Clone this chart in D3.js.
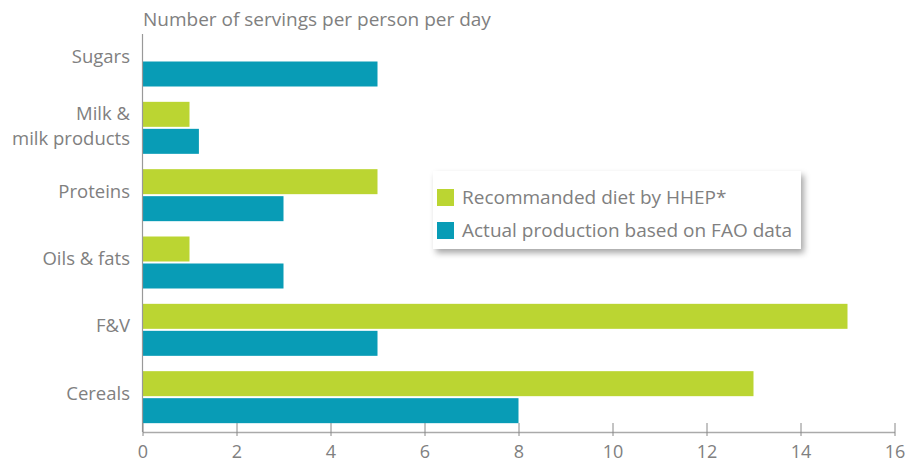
<!DOCTYPE html>
<html>
<head>
<meta charset="utf-8">
<script src="https://cdn.jsdelivr.net/npm/d3@7"></script>
<style>
  body { margin: 0; background: #fff; }
  text { font-family: "Open Sans", sans-serif; fill: #808080; }
</style>
</head>
<body>
<svg width="905" height="463"></svg>
<script>
// data, top to bottom
var categories = ["Sugars", "Milk &\nmilk products", "Proteins", "Oils & fats", "F&V", "Cereals"];
var recommended = [0, 1, 5, 1, 15, 13];
var actual = [5, 1.2, 3, 3, 5, 8];
var seriesNames = ["Recommanded diet by HHEP*", "Actual production based on FAO data"];
var xTicks = [0, 2, 4, 6, 8, 10, 12, 14, 16];
var colors = ["#bbd532", "#089cb6"];

var svg = d3.select("svg");

var x = d3.scaleLinear().domain([0, 16]).range([142.5, 894.5]);
var y = d3.scaleBand().domain(categories).range([34.5, 438.5]).padding(0);
var barH = 25, gap = 2;

var rows = categories.map(function(c, i) {
    return { cat: c, vals: [recommended[i], actual[i]] };
});

// bars
var g = svg.selectAll("g.row")
    .data(rows)
    .enter()
    .append("g")
    .attr("class", "row")
    .attr("transform", function(d) { return "translate(0," + y(d.cat) + ")"; });

g.selectAll("rect")
    .data(function(d) { return d.vals; })
    .enter()
    .append("rect")
    .attr("x", x(0))
    .attr("y", function(d, i) { return i * (barH + gap); })
    .attr("width", function(d) { return x(d) - x(0); })
    .attr("height", barH)
    .attr("fill", function(d, i) { return colors[i]; });

// category labels
g.append("text")
    .attr("x", 130)
    .attr("text-anchor", "end")
    .style("font-size", "18.5px")
    .each(function(d) {
        var lines = d.cat.split("\n");
        var t = d3.select(this);
        var off = lines.length > 1 ? -1.7 : -4;
        lines.forEach(function(l, k) {
            t.append("tspan")
                .attr("x", 130)
                .attr("y", barH + gap / 2 + off + (k - (lines.length - 1) / 2) * 25.5)
                .attr("dy", "0.35em")
                .text(l);
        });
    });

// y axis line
svg.append("line")
    .attr("x1", x(0)).attr("x2", x(0))
    .attr("y1", 34).attr("y2", 432)
    .attr("stroke", "#999").attr("stroke-width", 1.2);

// x axis
var xAxis = svg.append("g")
    .attr("transform", "translate(0,432)")
    .call(d3.axisBottom(x).tickValues(xTicks).tickSize(4).tickSizeOuter(0));
xAxis.select(".domain").attr("stroke", "#aaa").attr("stroke-width", 1.5);
xAxis.selectAll(".tick line").attr("stroke", "#888").attr("y1", -9).attr("y2", 4);
xAxis.selectAll(".tick text")
    .attr("y", 13.5)
    .style("font-size", "18px")
    .style("font-family", "'Open Sans', sans-serif")
    .attr("fill", "#808080");

// title
svg.append("text")
    .attr("x", 143)
    .attr("y", 26)
    .style("font-size", "19px")
    .text("Number of servings per person per day");

// legend
var defs = svg.append("defs");
var f = defs.append("filter").attr("id", "shadow")
    .attr("x", "-10%").attr("y", "-20%").attr("width", "130%").attr("height", "160%");
f.append("feDropShadow")
    .attr("dx", 3).attr("dy", 4).attr("stdDeviation", 3)
    .attr("flood-color", "#000").attr("flood-opacity", 0.35);

var legend = svg.append("g").attr("transform", "translate(433,171)");
legend.append("rect")
    .attr("width", 368).attr("height", 78)
    .attr("fill", "#fff")
    .attr("filter", "url(#shadow)");

var li = legend.selectAll("g.item")
    .data(seriesNames)
    .enter()
    .append("g")
    .attr("class", "item")
    .attr("transform", function(d, i) { return "translate(4," + (18 + i * 33) + ")"; });
li.append("rect")
    .attr("width", 17).attr("height", 17)
    .attr("fill", function(d, i) { return colors[i]; });
li.append("text")
    .attr("x", 25)
    .attr("y", 8.5)
    .attr("dy", "0.35em")
    .style("font-size", "19px")
    .text(function(d) { return d; });
</script>
</body>
</html>
